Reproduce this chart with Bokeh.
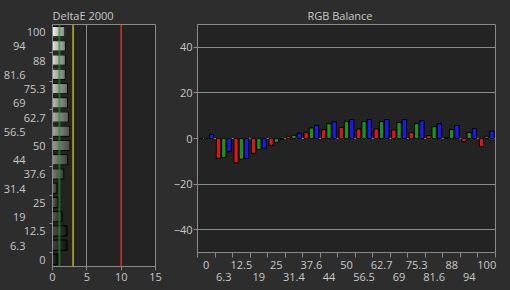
from bokeh.plotting import figure
from bokeh.models import Range1d, FixedTicker, LinearAxis, Span
from bokeh.layouts import row
from bokeh.embed import file_html
from bokeh.resources import INLINE

# ---- data ----
levels = ["0", "6.3", "12.5", "19", "25", "31.4", "37.6", "44", "50",
          "56.5", "62.7", "69", "75.3", "81.6", "88", "94", "100"]
level_values = [0, 6.3, 12.5, 19, 25, 31.4, 37.6, 44, 50,
                56.5, 62.7, 69, 75.3, 81.6, 88, 94, 100]
delta_e = [0.82, 2.12, 2.12, 1.40, 0.82, 0.65, 1.65, 2.22, 2.55,
           2.52, 2.35, 2.18, 2.18, 1.87, 1.88, 1.88, 1.80]
red_err = [0.0, -8.7, -10.6, -6.5, -3.0, 1.0, 2.6, 3.9, 4.8,
           4.2, 4.2, 3.8, 2.6, 1.3, 0.3, -1.4, -3.6]
green_err = [0.0, -8.3, -9.1, -4.8, -1.7, 1.4, 4.6, 6.5, 7.4,
             7.4, 7.4, 7.0, 6.5, 5.2, 3.9, 2.6, 1.0]
blue_err = [1.8, -5.8, -8.7, -4.3, -0.3, 2.3, 5.8, 7.4, 8.3,
            8.3, 8.3, 8.3, 7.8, 6.5, 5.7, 4.3, 3.2]
delta_ticks = [0, 5, 10, 15]
rgb_ticks = [-40, -20, 0, 20, 40]
ref_good = 1
ref_ok = 3
ref_grid = 5
ref_bad = 10

# ---- style ----
FONT = "Open Sans"
FS = "11px"
TXT = "#c8c8c8"
OUTER = "#2d2d2d"
INNER = "#232323"
LINE = "#8a8a8a"
PAD = "\u00a0" * 7  # pushes every other level label one column to the left

n = len(levels)
idx = list(range(n))
even_idx = [i for i in idx if i % 2 == 0]
odd_idx = [i for i in idx if i % 2 == 1]


def style_axis(ax):
    ax.major_label_text_font = FONT
    ax.major_label_text_font_size = FS
    ax.major_label_text_color = TXT
    ax.axis_line_color = LINE
    ax.major_tick_line_color = LINE
    ax.minor_tick_line_color = LINE


def style_title(p, offset):
    p.title.align = "left"
    p.title.offset = offset
    p.title.text_font = FONT
    p.title.text_font_size = FS
    p.title.text_font_style = "normal"
    p.title.text_color = TXT
    p.title.standoff = 4


# ---- left: DeltaE 2000 ----
p1 = figure(width=170, height=290, x_range=Range1d(0, 15), y_range=Range1d(-0.5, n - 0.5),
            output_backend="svg", toolbar_location=None, y_axis_location=None,
            min_border_left=51, min_border_right=15, min_border_top=24, min_border_bottom=24,
            title="DeltaE 2000")
p1.frame_align = False
p1.background_fill_color = INNER
p1.border_fill_color = OUTER
p1.outline_line_color = LINE
style_title(p1, 0)
p1.ygrid.visible = False
p1.xgrid.ticker = FixedTicker(ticks=[ref_grid])
p1.xgrid.grid_line_color = LINE

xa = p1.xaxis[0]
xa.ticker = FixedTicker(ticks=delta_ticks)
xa.major_tick_out = 4
xa.major_tick_in = 0
xa.major_label_standoff = 2
style_axis(xa)

left_labels = {i: (levels[i] if i % 2 == 0 else levels[i] + PAD) for i in idx}
ax_in = LinearAxis(ticker=FixedTicker(ticks=idx, minor_ticks=[i + 0.5 for i in even_idx[:-1]]),
                   major_label_overrides=left_labels,
                   major_tick_out=0, major_tick_in=0, minor_tick_out=3, minor_tick_in=0,
                   major_label_standoff=4)
style_axis(ax_in)
p1.add_layout(ax_in, "left")

# gradient bars: light on the left, darker on the right
NSEG = 12
seg_y, seg_l, seg_r, seg_c = [], [], [], []
for i in idx:
    v = delta_e[i]
    t = level_values[i] / 100.0
    g_left = 55 + 195 * t
    g_right = 12 + 128 * t
    for j in range(NSEG):
        f = (j + 0.5) / NSEG
        g = int(round(g_left + (g_right - g_left) * f))
        seg_y.append(i)
        seg_l.append(v * j / NSEG)
        seg_r.append(v * (j + 1) / NSEG)
        seg_c.append("#%02x%02x%02x" % (g, g, g))
p1.hbar(y=seg_y, left=seg_l, right=seg_r, height=0.72, fill_color=seg_c, line_color=seg_c, line_width=0.8)
p1.hbar(y=idx, left=0, right=delta_e, height=0.72, fill_color=None, line_color="black", line_width=1)

p1.add_layout(Span(location=ref_good, dimension="height", line_color="#2e8b2e", line_alpha=0.65, line_width=2))
p1.add_layout(Span(location=ref_ok, dimension="height", line_color="#b8b82a", line_width=1.5))
p1.add_layout(Span(location=ref_bad, dimension="height", line_color="#c83232", line_width=1.5))

# ---- right: RGB Balance ----
p2 = figure(width=340, height=290, x_range=Range1d(-0.5, n - 0.5), y_range=Range1d(-50, 50),
            output_backend="svg", toolbar_location=None, x_axis_location=None,
            min_border_left=24, min_border_right=15, min_border_top=24, min_border_bottom=38,
            title="RGB Balance")
p2.frame_align = False
p2.background_fill_color = INNER
p2.border_fill_color = OUTER
p2.outline_line_color = LINE
style_title(p2, 110)
p2.xgrid.visible = False
p2.ygrid.ticker = FixedTicker(ticks=rgb_ticks)
p2.ygrid.grid_line_color = LINE

ya = p2.yaxis[0]
ya.ticker = FixedTicker(ticks=rgb_ticks)
ya.major_tick_out = 4
ya.major_tick_in = 0
ya.minor_tick_out = 0
ya.minor_tick_in = 0
ya.major_label_standoff = 1
style_axis(ya)

bx1 = LinearAxis(ticker=FixedTicker(ticks=even_idx, minor_ticks=[i - 0.5 for i in idx] + [n - 0.5]),
                 major_label_overrides={i: levels[i] for i in even_idx},
                 major_tick_out=0, major_tick_in=0, minor_tick_out=5, minor_tick_in=0,
                 major_label_standoff=3)
style_axis(bx1)
p2.add_layout(bx1, "below")
bx2 = LinearAxis(ticker=FixedTicker(ticks=odd_idx),
                 major_label_overrides={i: levels[i] for i in odd_idx},
                 major_tick_out=0, major_tick_in=0, minor_tick_out=0, minor_tick_in=0,
                 major_label_standoff=1)
style_axis(bx2)
bx2.axis_line_color = None
bx2.major_tick_line_color = None
bx2.minor_tick_line_color = None
p2.add_layout(bx2, "below")

bw = 0.25
for off, vals, col in ((-0.3, red_err, "#dd1515"), (0.0, green_err, "#15961a"), (0.3, blue_err, "#1a1aee")):
    p2.vbar(x=[i + off for i in idx], top=vals, bottom=0, width=bw,
            fill_color=col, line_color="black", line_width=1)

layout = row(p1, p2, styles={"background-color": OUTER})
open("out.html", "w").write(file_html(layout, INLINE))
